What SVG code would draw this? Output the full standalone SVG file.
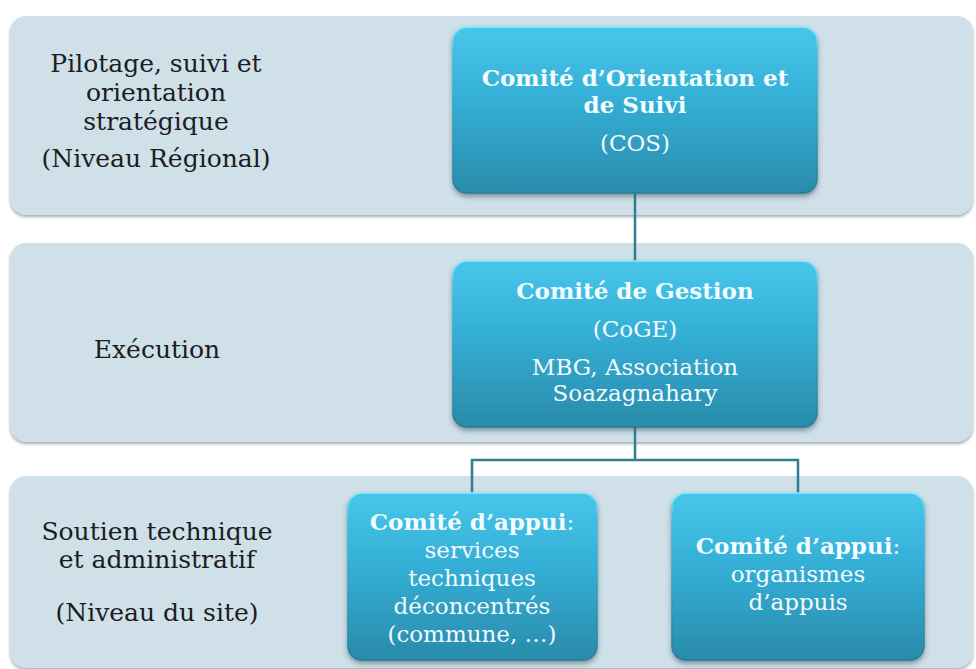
<svg xmlns="http://www.w3.org/2000/svg" width="976" height="669" viewBox="0 0 976 669">
<defs>
  <filter id="bandShadow" x="-5%" y="-10%" width="110%" height="125%">
    <feDropShadow dx="0" dy="2" stdDeviation="1.5" flood-color="#7a8a94" flood-opacity="0.7"/>
  </filter>
  <filter id="boxShadow" x="-10%" y="-10%" width="120%" height="130%">
    <feDropShadow dx="0" dy="3" stdDeviation="2.5" flood-color="#3a5560" flood-opacity="0.55"/>
  </filter>
  <linearGradient id="boxFill" x1="0" y1="0" x2="0" y2="1">
    <stop offset="0" stop-color="#48c6ea"/>
    <stop offset="0.45" stop-color="#34aed5"/>
    <stop offset="1" stop-color="#2a8baa"/>
  </linearGradient>
  <linearGradient id="boxStroke" x1="0" y1="0" x2="0" y2="1">
    <stop offset="0" stop-color="#8eeafc"/>
    <stop offset="0.15" stop-color="#45bfe2"/>
    <stop offset="1" stop-color="#267d98"/>
  </linearGradient>
  <style>
    .band { fill: #cfe0e9; filter: url(#bandShadow); }
    .box { fill: url(#boxFill); stroke: url(#boxStroke); stroke-width: 1.5; filter: url(#boxShadow); }
    .lbl { font-family: "DejaVu Serif", "Liberation Serif", serif; font-size: 25px; fill: #1c1c22; text-anchor: middle; }
    .bt { font-family: "DejaVu Serif", "Liberation Serif", serif; font-size: 23px; fill: #f2fbff; text-anchor: middle; }
    .b { font-weight: bold; }
    .conn { fill: none; stroke: #2f7e92; stroke-width: 2.5; }
  </style>
</defs>
<rect width="976" height="669" fill="#ffffff"/>

<g id="bands">
  <rect class="band" x="10" y="16" width="963" height="199" rx="16"/>
  <rect class="band" x="10" y="243" width="963" height="199" rx="16"/>
  <rect class="band" x="10" y="476" width="963" height="192" rx="16"/>
</g>

<g id="connectors">
  <path class="conn" d="M635,193 V261"/>
  <path class="conn" d="M635,427 V460"/>
  <path class="conn" d="M472,493 V460 H798 V493"/>
</g>

<g id="label-pilotage">
  <text class="lbl" x="156" y="72">Pilotage, suivi et</text>
  <text class="lbl" x="156" y="101">orientation</text>
  <text class="lbl" x="156" y="130">stratégique</text>
  <text class="lbl" x="156" y="167">(Niveau Régional)</text>
</g>

<g id="label-execution">
  <text class="lbl" x="157" y="358">Exécution</text>
</g>

<g id="label-soutien">
  <text class="lbl" x="157" y="540">Soutien technique</text>
  <text class="lbl" x="157" y="568">et administratif</text>
  <text class="lbl" x="157" y="621">(Niveau du site)</text>
</g>

<g id="node-cos">
  <rect class="box" x="453" y="27" width="364" height="166" rx="14"/>
  <text class="bt b" x="635" y="86">Comité d’Orientation et</text>
  <text class="bt b" x="635" y="113">de Suivi</text>
  <text class="bt" x="635" y="151">(COS)</text>
</g>

<g id="node-coge">
  <rect class="box" x="453" y="261" width="364" height="166" rx="14"/>
  <text class="bt b" x="635" y="299">Comité de Gestion</text>
  <text class="bt" x="635" y="337">(CoGE)</text>
  <text class="bt" x="635" y="375">MBG, Association</text>
  <text class="bt" x="635" y="401">Soazagnahary</text>
</g>

<g id="node-appui-services">
  <rect class="box" x="348" y="493" width="249" height="167" rx="14"/>
  <text class="bt" x="472" y="530"><tspan class="b">Comité d’appui</tspan>:</text>
  <text class="bt" x="472" y="558">services</text>
  <text class="bt" x="472" y="586">techniques</text>
  <text class="bt" x="472" y="614">déconcentrés</text>
  <text class="bt" x="472" y="642">(commune, …)</text>
</g>

<g id="node-appui-organismes">
  <rect class="box" x="672" y="493" width="252" height="167" rx="14"/>
  <text class="bt" x="798" y="554"><tspan class="b">Comité d’appui</tspan>:</text>
  <text class="bt" x="798" y="582">organismes</text>
  <text class="bt" x="798" y="610">d’appuis</text>
</g>
</svg>
